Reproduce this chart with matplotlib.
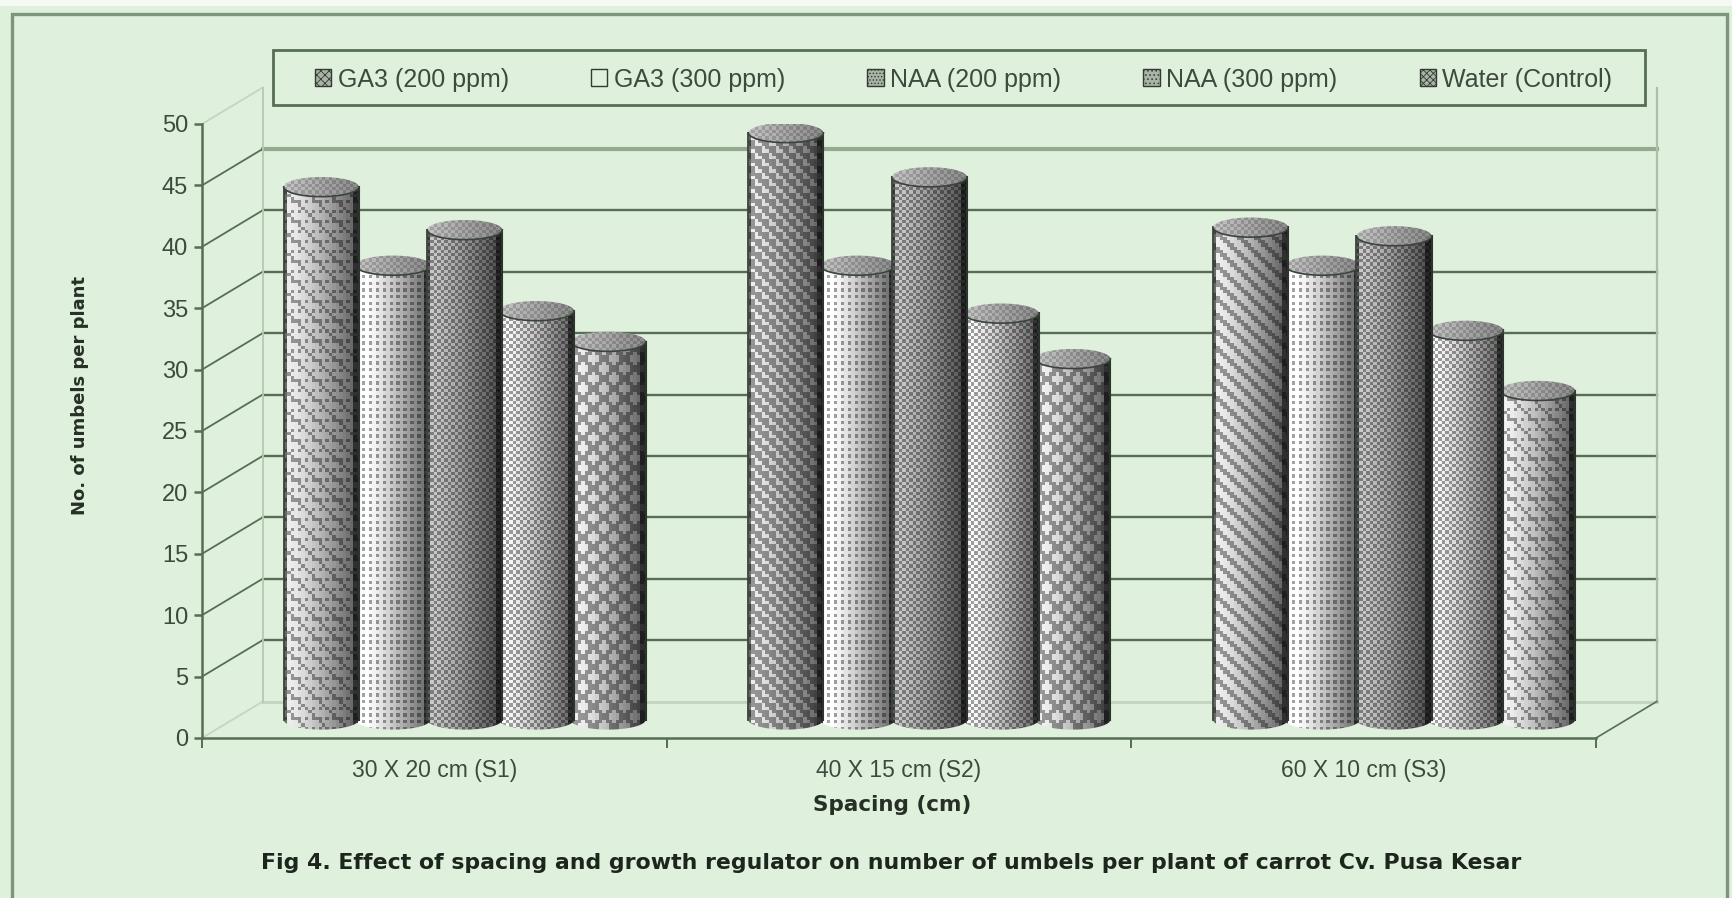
import numpy as np
import matplotlib
matplotlib.use('Agg')
import matplotlib.pyplot as plt
from matplotlib.patches import PathPatch, Patch, Rectangle
from matplotlib.path import Path

plt.rcParams['font.family'] = ['Liberation Sans', 'DejaVu Sans']
plt.rcParams['hatch.linewidth'] = 0.6

categories = ['30 X 20 cm (S1)', '40 X 15 cm (S2)', '60 X 10 cm (S3)']
series_names = ['GA3 (200 ppm)', 'GA3 (300 ppm)', 'NAA (200 ppm)', 'NAA (300 ppm)', 'Water (Control)']
ga3_200 = [43.4, 47.8, 40.1]
ga3_300 = [37.0, 37.0, 37.0]
naa_200 = [39.9, 44.2, 39.4]
naa_300 = [33.3, 33.1, 31.7]
water = [30.8, 29.4, 26.8]
values = [ga3_200, ga3_300, naa_200, naa_300, water]
y_ticks = list(range(0, 55, 5))

# texture of every bar, row = spacing, column = series
patterns = [['brick', 'dots', 'check', 'check', 'diamond'],
            ['weave', 'dots', 'check', 'check', 'diamond'],
            ['stripes', 'dots', 'check', 'check', 'brick']]
bar_light = [0.90, 1.0, 0.76, 0.96, 0.92]
legend_hatch = ['xxxx', '', '.....', '....', 'xxxxx']

W, H = 1732, 898
BG = '#dff0dc'
DARK = '#566f54'
TEXT = '#3f4a3f'

depth_x = 55 / 421
depth_y = 2.97
bar_step = 65 / 421
bar_w = 68 / 421
ell = 0.8
draw_order = [1, 4, 3, 0, 2]

fig = plt.figure(figsize=(W / 100, H / 100), dpi=100, facecolor=BG)
ax = fig.add_axes([202 / W, 1 - 738 / H, (1596 - 202) / W, (738 - 124) / H])
ax.patch.set_alpha(0)
ax.set_xlim(0, 3)
ax.set_ylim(0, 50)

# outer frame
fig.add_artist(Rectangle((0, 1 - 6 / H), 1, 6 / H, transform=fig.transFigure, fc='#f4faf3', ec='none'))
fig.add_artist(Rectangle((12 / W, -0.02), (1727 - 12) / W, 1.02 - 14 / H, transform=fig.transFigure,
                         fc='none', ec='#7d957b', lw=2.4))

# walls
for y in y_ticks:
    if y in (0, 50):
        col, lw = '#c4d6bf', 2.2
    elif y == 45:
        col, lw = '#93aa8f', 3.0
    else:
        col, lw = DARK, 1.7
    if y != 50:
        ax.plot([depth_x, 3 + depth_x], [y + depth_y] * 2, color=col, lw=lw, clip_on=False, zorder=1)
    ax.plot([0, depth_x], [y, y + depth_y], color=col if y != 45 else DARK, lw=1.3, clip_on=False, zorder=1)
ax.plot([depth_x] * 2, [depth_y, 50 + depth_y], color='#b7c9b2', lw=1.3, clip_on=False, zorder=1)
ax.plot([3 + depth_x] * 2, [depth_y, 50 + depth_y], color='#aebfa9', lw=1.6, clip_on=False, zorder=1)
ax.plot([3, 3 + depth_x], [0, depth_y], color=DARK, lw=1.2, clip_on=False, zorder=1)


def texture(name, nx, ny):
    jj, ii = np.meshgrid(np.arange(nx), np.arange(ny))
    if name == 'check':
        return (ii + jj) % 2 == 0
    if name == 'dots':
        return (ii % 2 == 0) & (jj % 2 == 0)
    if name == 'stripes':
        return (ii + jj) % 5 < 2
    if name == 'diamond':
        return ((ii + jj) % 6 < 2) | ((ii - jj) % 6 < 2)
    if name == 'weave':
        return ((ii + jj) % 4 < 2) | ((ii - jj) % 4 == 0)
    # brick
    return ((ii % 3 == 0) & (jj % 2 == 0)) | ((ii + jj) % 6 == 0)


def cylinder(cx, bottom, top, name, light, zorder):
    left, right = cx - bar_w / 2, cx + bar_w / 2
    t = np.linspace(np.pi, 2 * np.pi, 40)
    arc_x = cx + bar_w / 2 * np.cos(t)
    arc_y = ell * np.sin(t)
    xs = np.r_[left, arc_x, right, arc_x[::-1]]
    ys = np.r_[top, top + arc_y, top, bottom + arc_y[::-1]]
    body = Path(np.c_[xs, ys])
    nx = int(bar_w * (ax.bbox.width / 3) / 3.3)
    ny = int((top - bottom + 2 * ell) * (ax.bbox.height / 50) / 3.3)
    u = np.linspace(0, 1, nx)
    shade = 0.98 - 0.68 * np.clip(u - 0.08, 0, 1) ** 1.2
    shade[-2:] *= 0.5
    shade[:1] *= 0.45
    mask = texture(name, nx, ny)
    img = light * shade[None, :] * np.where(mask, 0.66, 1.05)
    im = ax.imshow(np.clip(img, 0, 1), cmap='gray', vmin=0, vmax=1, aspect='auto', origin='lower',
                   extent=[left, right, bottom - ell, top + ell], interpolation='nearest', zorder=zorder)
    im.set_clip_path(PathPatch(body, transform=ax.transData))
    ax.plot([left, left], [bottom, top], color='#39453a', lw=1.3, zorder=zorder + 0.1)
    ax.plot([right, right], [bottom, top], color='#2b352c', lw=1.5, zorder=zorder + 0.1)
    # lid
    a = np.linspace(0, 2 * np.pi, 80)
    lid = Path(np.c_[cx + bar_w / 2 * np.cos(a), top + ell * np.sin(a)])
    nyl = max(int(2 * ell * (ax.bbox.height / 50) / 3), 4)
    lid_img = (0.74 - 0.22 * np.linspace(0, 1, nx))[None, :] * np.where(texture('check', nx, nyl), 0.86, 1.04)
    im2 = ax.imshow(lid_img, cmap='gray', vmin=0, vmax=1, aspect='auto', origin='lower',
                    extent=[left, right, top - ell, top + ell], interpolation='nearest', zorder=zorder + 0.2)
    im2.set_clip_path(PathPatch(lid, transform=ax.transData))
    ax.plot(arc_x, top + arc_y, color='#3a453a', lw=1.2, zorder=zorder + 0.3)


base = depth_y / 2
for c in range(len(categories)):
    for k, s in enumerate(draw_order):
        cx = c + 0.5 + depth_x / 2 + (s - 2) * bar_step
        cylinder(cx, base, base + values[s][c], patterns[c][s], bar_light[s], 3 + k)

ax.set_xlim(0, 3)
ax.set_ylim(0, 50)

# axes
for side in ('top', 'right'):
    ax.spines[side].set_visible(False)
for side in ('left', 'bottom'):
    ax.spines[side].set_color(DARK)
    ax.spines[side].set_linewidth(1.8)
    ax.spines[side].set_zorder(20)
ax.set_yticks(y_ticks)
ax.set_xticks(range(4))
ax.set_xticklabels([])
ax.set_xticks([0.5, 1.5, 2.5], minor=True)
ax.set_xticklabels(categories, minor=True, fontsize=16.5, color=TEXT)
ax.tick_params(axis='x', which='minor', length=0, pad=15)
ax.tick_params(axis='x', which='major', length=7, width=1.4, color=DARK)
ax.tick_params(axis='y', length=6, width=1.8, color=DARK, pad=4, labelsize=17, labelcolor=TEXT)

fig.text(808 * 1.1046 / W, 1 - 729 * 1.1046 / H, 'Spacing (cm)', ha='center', va='center',
         fontsize=15.5, fontweight='bold', color='#263026', family='DejaVu Sans')
fig.text(72 * 1.1046 / W, 1 - 358 * 1.1046 / H, 'No. of umbels per plant', ha='center', va='center',
         rotation=90, fontsize=13, fontweight='bold', color='#263026', family='DejaVu Sans')
fig.text(807 * 1.1046 / W, 1 - 781 * 1.1046 / H,
         'Fig 4. Effect of spacing and growth regulator on number of umbels per plant of carrot Cv. Pusa Kesar',
         ha='center', va='center', fontsize=15.8, fontweight='bold', color='#1d261d', family='DejaVu Sans')

# legend box is drawn apart so the entries can sit inside it with their own margins
fig.add_artist(Rectangle((273 / W, 1 - 105 / H), (1645 - 273) / W, 55 / H, transform=fig.transFigure,
                         fc=BG, ec=DARK, lw=2.0, zorder=29))
handles = [Patch(fc=BG if i == 1 else '#a8b4a6', ec='#333b33', hatch=legend_hatch[i], lw=1.0)
           for i in range(5)]
leg = fig.legend(handles, series_names, ncol=5, loc='center left', mode='expand',
                 bbox_to_anchor=(315 / W, 1 - 107 / H, (1612 - 315) / W, 55 / H), bbox_transform=fig.transFigure,
                 borderaxespad=0, borderpad=0, fontsize=18, labelcolor=TEXT, frameon=False,
                 handlelength=0.65, handleheight=0.65, handletextpad=0.25)
leg.set_zorder(30)

fig.savefig('out.png', dpi=100, facecolor=BG)
